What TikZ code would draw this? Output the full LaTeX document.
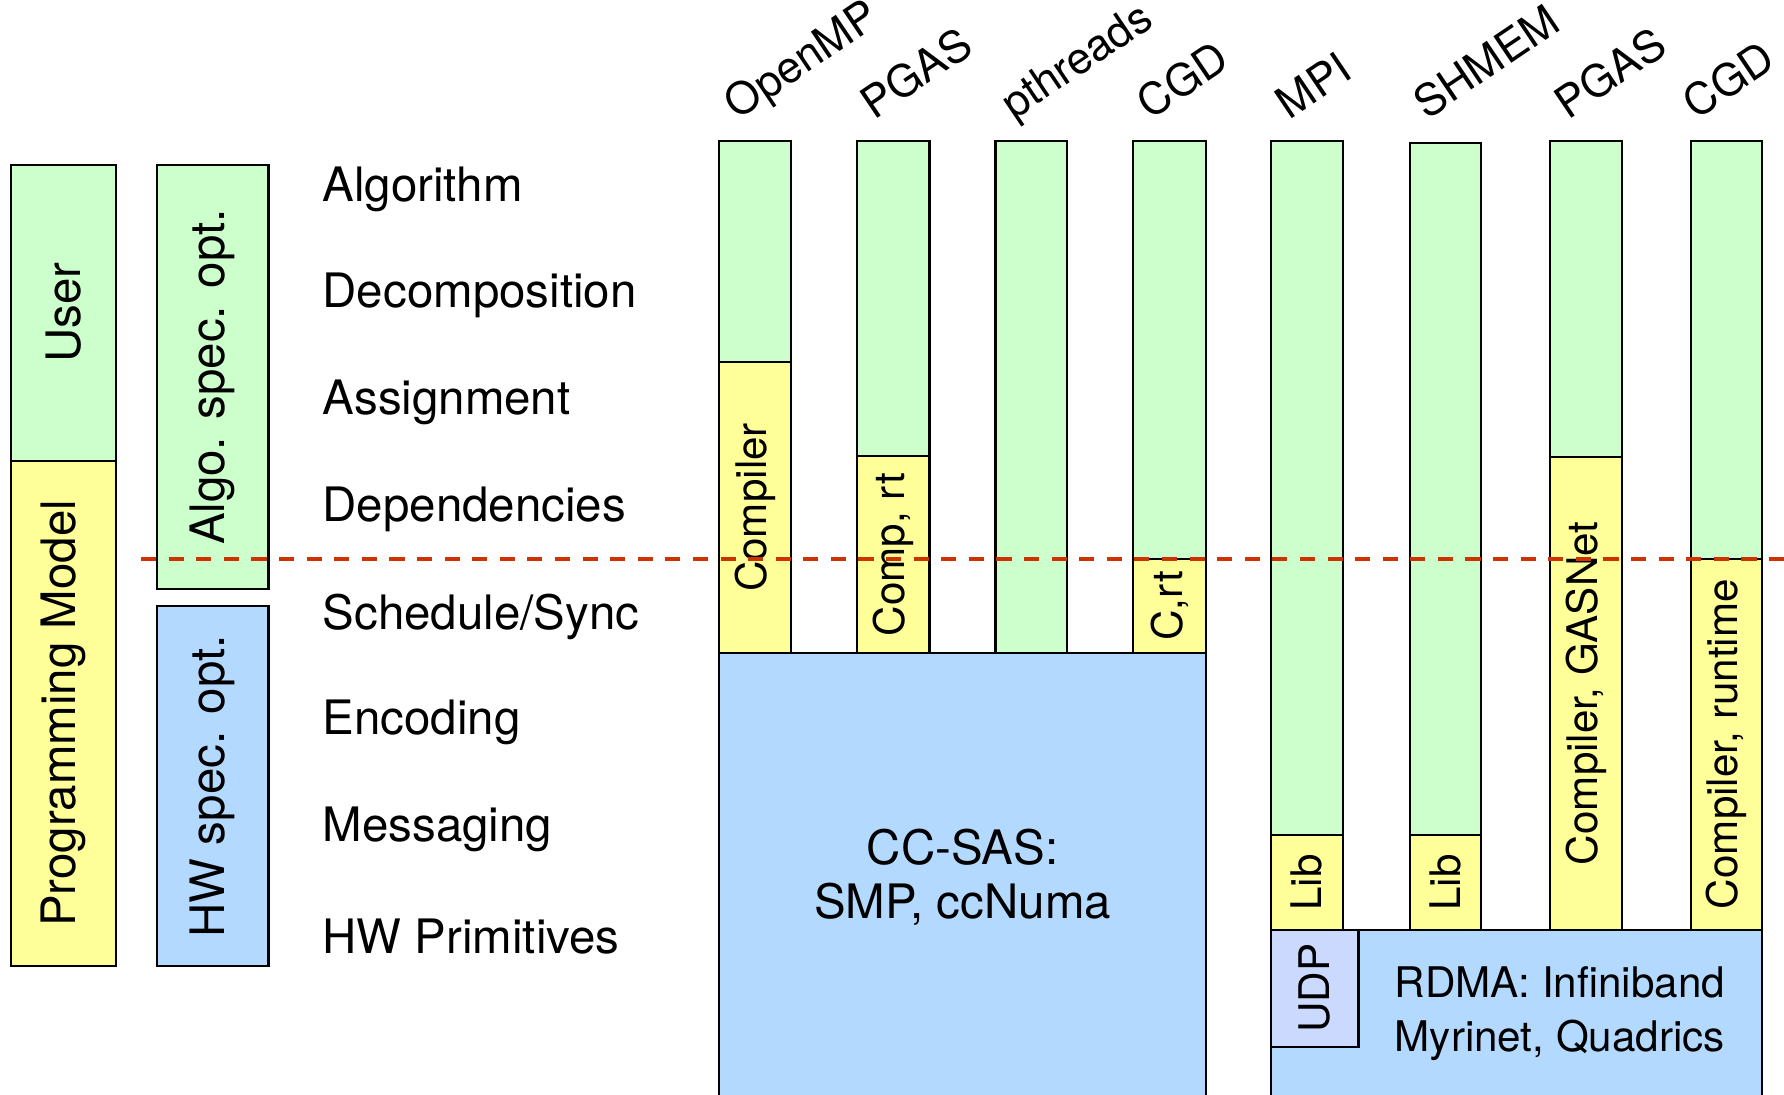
\documentclass[tikz,border=0pt]{standalone}
\usepackage{fontspec}
\setmainfont{TeX Gyre Heros}
\usetikzlibrary{fit}
\definecolor{usergreen}{RGB}{204,255,204}
\definecolor{toolyellow}{RGB}{255,255,153}
\definecolor{hwblue}{RGB}{179,217,255}
\definecolor{udplav}{RGB}{204,217,255}
\definecolor{splitred}{RGB}{204,51,0}
\tikzset{
  blk/.style={draw=black, line width=0.6pt, inner sep=0pt, outer sep=0pt},
  grn/.style={blk, fill=usergreen},
  ylw/.style={blk, fill=toolyellow},
  blu/.style={blk, fill=hwblue},
  lav/.style={blk, fill=udplav},
  txt/.style={font=\fontsize{13.5}{15.3}\selectfont, inner sep=0pt},
  small/.style={font=\fontsize{12}{15.2}\selectfont, inner sep=0pt},
  vtxt/.style={txt, rotate=90},
  vsmall/.style={small, rotate=90},
  toplab/.style={font=\fontsize{12.5}{15}\selectfont, inner sep=0pt, rotate=34, anchor=base west},
  rowlab/.style={txt, anchor=west},
  splitline/.style={draw=splitred, line width=1.2pt, dash pattern=on 4.3pt off 3.55pt}
}
\begin{document}
\begin{tikzpicture}[x=0.3237pt, y=-0.3237pt]
\useasboundingbox (0,0) rectangle (1568,962);

% left-hand legend boxes
\node[grn, fit={(10,145)(102,405)}] (user) {};
\node[ylw, fit={(10,405)(102,849)}] (pm) {};
\node[grn, fit={(138,145)(236,518)}] (algo) {};
\node[blu, fit={(138,533)(236,849)}] (hwopt) {};
\node[vtxt] (userT) at (user.center) {User};
\node[vtxt] (pmT) at (pm.center) {Programming Model};
\node[vtxt] (algoT) at (algo.center) {Algo. spec. opt.};
\node[vtxt] (hwoptT) at (hwopt.center) {HW spec. opt.};

% layer names
\node[rowlab] (r1) at (283,166) {Algorithm};
\node[rowlab] (r2) at (283,260) {Decomposition};
\node[rowlab] (r3) at (283,354) {Assignment};
\node[rowlab] (r4) at (283,448) {Dependencies};
\node[rowlab] (r5) at (283,542) {Schedule/Sync};
\node[rowlab] (r6) at (283,635) {Encoding};
\node[rowlab] (r7) at (283,729) {Messaging};
\node[rowlab] (r8) at (283,823) {HW Primitives};

% shared-memory stacks
\node[blu, fit={(632,574)(1060,975)}] (ccsas) {};
\node[txt, align=center] (ccsasT) at (846,771) {CC-SAS:\\SMP, ccNuma};

\node[grn, fit={(632,124)(695,318)}] (ompU) {};
\node[ylw, fit={(632,318)(695,574)}] (ompC) {};
\node[vsmall] (ompCT) at (ompC.center) {Compiler};

\node[grn, fit={(753,124)(817,401)}] (pgasU) {};
\node[ylw, fit={(753,401)(817,574)}] (pgasC) {};
\node[vsmall] (pgasCT) at (pgasC.center) {Comp, rt};

\node[grn, fit={(875,124)(938,574)}] (pthU) {};

\node[grn, fit={(996,124)(1060,491)}] (cgdU) {};
\node[ylw, fit={(996,491)(1060,574)}] (cgdC) {};
\node[vsmall] (cgdCT) at (cgdC.center) {C,rt};

% distributed-memory stacks
\node[blu, fit={(1117,817)(1549,975)}] (rdma) {};
\node[lav, fit={(1117,817)(1194,920)}] (udp) {};
\node[vsmall] (udpT) at (udp.center) {UDP};
\node[small, align=center] (rdmaT) at (1371,891) {RDMA: Infiniband\\Myrinet, Quadrics};

\node[grn, fit={(1117,124)(1180,734)}] (mpiU) {};
\node[ylw, fit={(1117,734)(1180,817)}] (mpiC) {};
\node[vsmall] (mpiCT) at (mpiC.center) {Lib};

\node[grn, fit={(1239,126)(1302,734)}] (shmU) {};
\node[ylw, fit={(1239,734)(1302,817)}] (shmC) {};
\node[vsmall] (shmCT) at (shmC.center) {Lib};

\node[grn, fit={(1362,124)(1426,402)}] (pgas2U) {};
\node[ylw, fit={(1362,402)(1426,817)}] (pgas2C) {};
\node[vsmall] (pgas2CT) at (pgas2C.center) {Compiler, GASNet};

\node[grn, fit={(1486,124)(1549,491)}] (cgd2U) {};
\node[ylw, fit={(1486,491)(1549,817)}] (cgd2C) {};
\node[vsmall] (cgd2CT) at (cgd2C.center) {Compiler, runtime};

% column headings
\node[toplab] (h1) at (648,106) {OpenMP};
\node[toplab] (h2) at (768,106) {PGAS};
\node[toplab] (h3) at (891,106) {pthreads};
\node[toplab] (h4) at (1011,106) {CGD};
\node[toplab] (h5) at (1133,106) {MPI};
\node[toplab] (h6) at (1254,106) {SHMEM};
\node[toplab] (h7) at (1378,106) {PGAS};
\node[toplab] (h8) at (1491,106) {CGD};

% user / system split
\coordinate (splitL) at (124,491);
\coordinate (splitR) at (1568,491);
\draw[splitline] (splitL) -- (splitR);
\end{tikzpicture}
\end{document}
